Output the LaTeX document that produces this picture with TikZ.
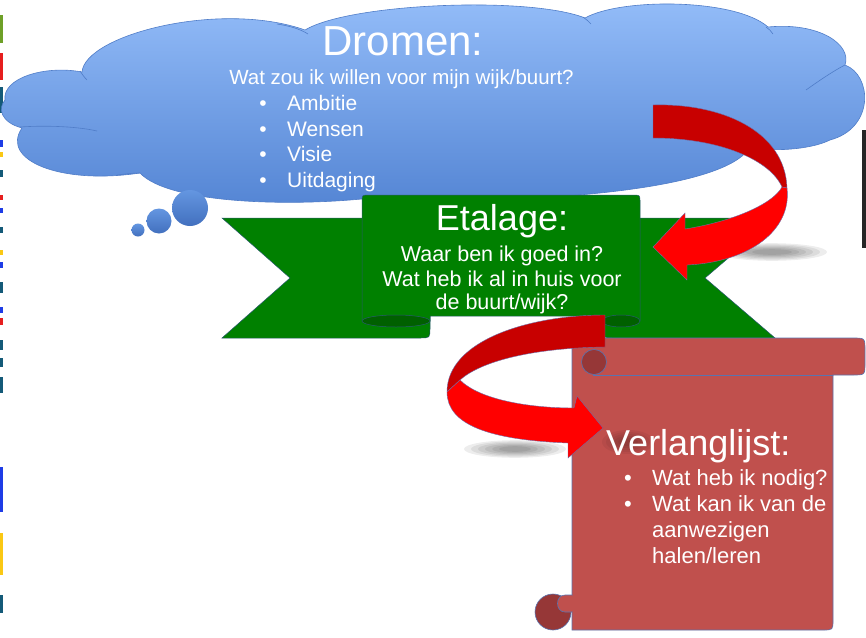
\documentclass[tikz,border=0pt]{standalone}
\usepackage{fontspec}
\setmainfont{Liberation Sans}
\definecolor{cloudtop}{RGB}{148,189,249}
\definecolor{cloudbot}{RGB}{84,133,212}
\definecolor{cloudline}{RGB}{80,125,200}
\definecolor{bubtop}{RGB}{100,150,225}
\definecolor{bubbot}{RGB}{66,112,190}
\definecolor{ribgreen}{RGB}{0,128,0}
\definecolor{ribdark}{RGB}{0,96,0}
\definecolor{ribline}{RGB}{40,90,110}
\definecolor{arrdark}{RGB}{200,0,0}
\definecolor{arrbright}{RGB}{255,0,0}
\definecolor{arrline}{RGB}{110,110,170}
\definecolor{scrollfill}{RGB}{192,80,77}
\definecolor{scrolldark}{RGB}{150,55,55}
\definecolor{scrollline}{RGB}{90,115,175}
\definecolor{edgeteal}{RGB}{20,90,120}
\definecolor{edgeblue}{RGB}{30,60,230}
\definecolor{edgeyellow}{RGB}{250,200,20}
\definecolor{edgered}{RGB}{230,30,30}
\definecolor{edgegreen}{RGB}{110,160,40}
\begin{document}
\begin{tikzpicture}[x=1pt,y=-1pt,
  cloudline/.style={draw=cloudline,line width=0.6pt},
  ribshape/.style={fill=ribgreen,draw=ribline,line width=0.5pt},
  ribcurl/.style={fill=ribdark,draw=ribline,line width=0.5pt},
  arrowdarkpart/.style={fill=arrdark,draw=arrline,line width=0.4pt},
  arrowbrightpart/.style={fill=arrbright,draw=arrline,line width=0.4pt},
  scrollshape/.style={fill=scrollfill,draw=scrollline,line width=0.6pt},
  scrollcurl/.style={fill=scrolldark,draw=scrollline,line width=0.6pt},
  wtxt/.style={text=white,inner sep=0pt,anchor=base},
  bigfont/.style={font=\fontsize{42}{46}\selectfont},
  midfont/.style={font=\fontsize{36}{40}\selectfont},
  smallfont/.style={font=\fontsize{21}{25}\selectfont},
  verlfont/.style={font=\fontsize{22}{26}\selectfont}]
\useasboundingbox (0,0) rectangle (866,637);
\fill[white] (0,0) rectangle (866,637);

% screenshot edge remnants
\foreach \ya/\yb/\cc in {15/43/edgegreen,53/80/edgered,87/113/edgeteal,140/147/edgeblue,152/157/edgeyellow,170/177/edgeteal,195/200/edgered,208/213/edgeblue,227/233/edgeteal,250/255/edgeyellow,262/268/edgeblue,282/293/edgeteal,307/313/edgeblue,318/325/edgered,340/350/edgeteal,358/367/edgeteal,377/393/edgeteal,467/512/edgeblue,533/575/edgeyellow,595/613/edgeteal}
  \fill[\cc] (0,\ya) rectangle (3,\yb);
\fill[black!85] (862,130) rectangle (866,248);

% cloud
\path[top color=cloudtop,bottom color=cloudbot,cloudline] (5,100)
  .. controls (2,78) and (45,65) .. (82,72)
  .. controls (85,35) and (220,0) .. (305,30)
  .. controls (350,3) and (530,-4) .. (585,18)
  .. controls (620,-2) and (735,-2) .. (768,27)
  .. controls (820,22) and (852,45) .. (845,65)
  .. controls (872,75) and (875,128) .. (830,140)
  .. controls (810,150) and (770,152) .. (750,147)
  .. controls (720,200) and (450,205) .. (380,197)
  .. controls (300,207) and (170,205) .. (140,173)
  .. controls (60,185) and (0,160) .. (22,128)
  .. controls (0,122) and (-2,108) .. (5,100) -- cycle;
\draw[cloudline] (80,71) .. controls (82,74) and (84,77) .. (87,80);
\draw[cloudline] (277,24) .. controls (290,26) and (300,29) .. (308,34);
\draw[cloudline] (583,17) .. controls (586,19) and (588,21) .. (591,24);
\draw[cloudline] (766,27) .. controls (769,29) and (771,31) .. (773,34);
\draw[cloudline] (806,90) .. controls (820,80) and (835,70) .. (845,65);
\draw[cloudline] (750,147) .. controls (745,145) and (740,143) .. (734,140);
\draw[cloudline] (20,127) .. controls (50,125) and (80,127) .. (97,131);
\draw[cloudline] (117,175) .. controls (125,174) and (133,173) .. (140,173);

% thought bubbles
\shade[top color=bubtop,bottom color=bubbot] (190,208) circle[radius=18];
\shade[top color=bubtop,bottom color=bubbot] (159,221) circle[radius=12.5];
\shade[top color=bubtop,bottom color=bubbot] (138,230) circle[radius=6.5];

% ribbon tails
\path[ribshape] (222,218) -- (430,218) -- (430,328) .. controls (430,338) .. (420,338)
  -- (222,338) -- (290,278) -- cycle;
\path[ribshape] (775,218) -- (603,218) -- (603,328) .. controls (603,338) .. (613,338)
  -- (775,338) -- (705,278) -- cycle;
% ribbon front panel
\path[ribshape] (362,321) -- (362,202) .. controls (362,195) .. (369,195) -- (633,195)
  .. controls (640,195) .. (640,202) -- (640,321) -- (603,321) -- (603,316) -- (430,316) -- (430,321) -- cycle;
\path[ribcurl] (396,321) ellipse[x radius=34,y radius=6];
\path[ribcurl] (621,321) ellipse[x radius=19,y radius=6];

% shadow of arrow 1
\foreach \k in {1,...,6}
  \fill[black,opacity=0.07] (772,252) ellipse[x radius={62-7*\k},y radius={10-1.2*\k}];

% arrow 1 (cloud -> etalage)
\path[arrowdarkpart] (653,105) .. controls (720,103) and (785,130) .. (787,188)
  -- (782,187) .. controls (770,160) and (720,138) .. (653,138) -- cycle;
\path[arrowbrightpart] (787,188) .. controls (792,230) and (750,262) .. (687,265)
  -- (687,280) -- (653,247) -- (685,213) -- (685,229)
  .. controls (730,222) and (772,205) .. (782,187) -- cycle;

% scroll (Verlanglijst)
\path[scrollshape] (572,630) -- (572,338) -- (853,338) .. controls (865,338) .. (865,350)
  -- (865,363) .. controls (865,375) .. (853,375) -- (833,375) -- (833,620)
  .. controls (833,630) .. (823,630) -- cycle;
\draw[scrollline,line width=0.6pt] (593,375) -- (833,375);
\path[scrollcurl] (594,362) circle[radius=12.5];
\path[scrollcurl] (553,612) circle[radius=18];
\path[fill=scrollfill,draw=scrollline,line width=0.6pt] (572,595) -- (565,595)
  .. controls (555,595) and (555,612) .. (565,612) -- (572,612);
\fill[scrollfill] (571,596) rectangle (573.5,611);

% shadow of arrow 2
\foreach \k in {1,...,6}
  \fill[black,opacity=0.07] (515,449) ellipse[x radius={58-7*\k},y radius={10-1.2*\k}];
\foreach \k in {1,...,5}
  \fill[black,opacity=0.05] (628,442) ellipse[x radius={30-4*\k},y radius={14-2*\k}];

% arrow 2 (etalage -> verlanglijst)
\path[arrowdarkpart] (605,315) .. controls (530,315) and (447,340) .. (447,392)
  -- (460,380) .. controls (480,362) and (530,348) .. (605,347) -- cycle;
\path[arrowbrightpart] (447,392) .. controls (447,425) and (490,440) .. (568,443)
  -- (568,458) -- (603,428) -- (577,396) -- (574,408)
  .. controls (530,408) and (480,400) .. (460,380) -- cycle;

% texts: Dromen
\node[wtxt,bigfont] (dromen) at (403,55) {Dromen:};
\node[wtxt,font=\fontsize{20.5}{24}\selectfont] (dromenq) at (401.5,84) {Wat zou ik willen voor mijn wijk/buurt?};
\foreach \yy/\ww/\nn in {110/Ambitie/d1,136/Wensen/d2,161.5/Visie/d3,187/Uitdaging/d4}{
  \node[wtxt,smallfont] (\nn b) at (263,\yy) {•};
  \node[wtxt,smallfont,anchor=base west] (\nn) at (287,\yy) {\ww};
}

% texts: Etalage
\node[wtxt,midfont] (etalage) at (502,230) {Etalage:};
\node[wtxt,font=\fontsize{21.5}{25}\selectfont] (et1) at (502,261) {Waar ben ik goed in?};
\node[wtxt,font=\fontsize{21.5}{25}\selectfont] (et2) at (502,286) {Wat heb ik al in huis voor};
\node[wtxt,font=\fontsize{21.5}{25}\selectfont] (et3) at (502,309) {de buurt/wijk?};

% texts: Verlanglijst
\node[wtxt,font=\fontsize{36}{40}\selectfont,anchor=base west] (verl) at (606,455) {Verlanglijst:};
\node[wtxt,verlfont] (v1b) at (628,485) {•};
\node[wtxt,verlfont,anchor=base west] (v1) at (652,485) {Wat heb ik nodig?};
\node[wtxt,verlfont] (v2b) at (628,511) {•};
\node[wtxt,verlfont,anchor=base west] (v2) at (652,511) {Wat kan ik van de};
\node[wtxt,verlfont,anchor=base west] (v3) at (652,537) {aanwezigen};
\node[wtxt,verlfont,anchor=base west] (v4) at (652,563) {halen/leren};
\end{tikzpicture}
\end{document}
